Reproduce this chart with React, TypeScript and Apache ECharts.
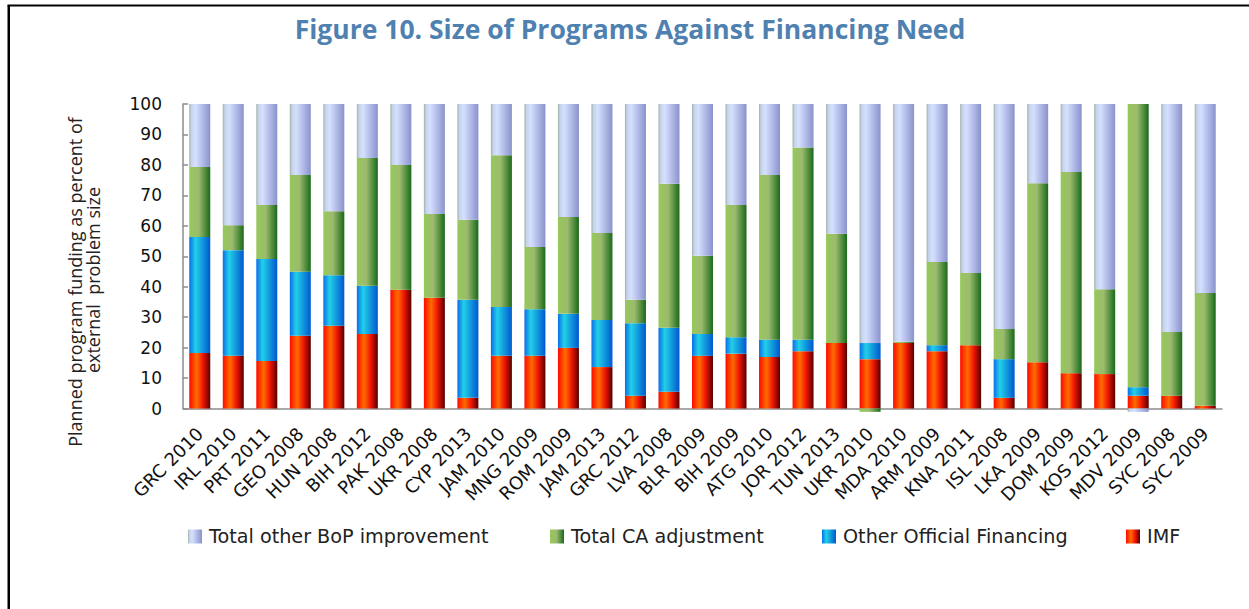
import React, { useEffect, useRef } from "react";
import * as echarts from "echarts";

const categories = [
  "GRC 2010", "IRL 2010", "PRT 2011", "GEO 2008", "HUN 2008", "BIH 2012", "PAK 2008", "UKR 2008",
  "CYP 2013", "JAM 2010", "MNG 2009", "ROM 2009", "JAM 2013", "GRC 2012", "LVA 2008", "BLR 2009",
  "BIH 2009", "ATG 2010", "JOR 2012", "TUN 2013", "UKR 2010", "MDA 2010", "ARM 2009", "KNA 2011",
  "ISL 2008", "LKA 2009", "DOM 2009", "KOS 2012", "MDV 2009", "SYC 2008", "SYC 2009",
];

const imf = [18.2, 17.3, 15.6, 23.9, 27.2, 24.5, 39.0, 36.4, 3.5, 17.3, 17.3, 19.9, 13.6, 4.2, 5.5, 17.3,
  18.0, 16.9, 18.8, 21.5, 16.2, 21.5, 18.8, 20.8, 3.5, 15.2, 11.6, 11.3, 4.2, 4.2, 0.9];
const otherOfficial = [38.1, 34.7, 33.5, 21.0, 16.6, 15.8, 0, 0, 32.2, 16.0, 15.3, 11.2, 15.5, 23.8, 21.0, 7.2,
  5.4, 5.7, 3.8, 0, 5.3, 0, 2.0, 0, 12.7, 0, 0, 0, 2.8, 0, 0];
const caAdjustment = [23.0, 8.2, 17.7, 31.8, 21.0, 42.0, 41.0, 27.5, 26.3, 49.9, 20.4, 31.8, 28.5, 7.7, 47.3, 25.7,
  43.4, 54.1, 63.1, 35.9, -1.1, 0.4, 27.3, 23.7, 9.9, 58.8, 66.1, 27.9, 93.0, 20.9, 37.0];
const otherBoP = [20.7, 39.8, 33.2, 23.3, 35.2, 17.7, 20.0, 36.1, 38.0, 16.8, 47.0, 37.1, 42.4, 64.3, 26.2, 49.8,
  33.2, 23.3, 14.3, 42.6, 78.5, 78.1, 51.9, 55.5, 73.9, 26.0, 22.3, 60.8, -1.1, 74.9, 62.1];

const seriesNames = ["IMF", "Other Official Financing", "Total CA adjustment", "Total other BoP improvement"];
const yTicks = { min: 0, max: 100, interval: 10 };

const FONT = "'Open Sans', 'Noto Sans', sans-serif";
const WIDE = "'DejaVu Sans', Verdana, sans-serif";

const grad = (stops: [number, string][]) =>
  new echarts.graphic.LinearGradient(0, 0, 1, 0, stops.map(([offset, color]) => ({ offset, color })));

const fills = [
  grad([[0, "#ff0a00"], [0.35, "#ff6c00"], [0.65, "#f01500"], [1, "#560000"]]),
  grad([[0, "#0a6ee8"], [0.3, "#22d0e8"], [1, "#0058d0"]]),
  grad([[0, "#96c85a"], [0.45, "#9cbb6e"], [1, "#1a6a1a"]]),
  grad([[0, "#9fb0a8"], [0.1, "#c6d4ea"], [0.3, "#d5e0ff"], [1, "#8a92cc"]]),
];

export default function App() {
  const ref = useRef<HTMLDivElement>(null);
  useEffect(() => {
    document.body.style.margin = "0";
    const chart = echarts.init(ref.current!, null, { renderer: "svg" });
    const dataSets = [imf, otherOfficial, caAdjustment, otherBoP];
    const legendPos = [
      { name: seriesNames[3], left: 188 },
      { name: seriesNames[2], left: 550 },
      { name: seriesNames[1], left: 822 },
      { name: seriesNames[0], left: 1126 },
    ];
    chart.setOption({
      animation: false,
      grid: { left: 183, right: 27, top: 104, bottom: 200.5, outerBoundsMode: "none" },
      legend: legendPos.map((l) => ({
        data: [l.name],
        left: l.left,
        top: 527,
        padding: 0,
        itemWidth: 14,
        itemHeight: 14,
        itemGap: 7,
        icon: "rect",
        selectedMode: false,
        textStyle: { fontFamily: WIDE, fontSize: 19.2, color: "#222", padding: [0, 0, 0, 2] },
      })),
      xAxis: {
        type: "category",
        data: categories,
        axisLine: { lineStyle: { color: "#8c8c8c", width: 1.5 } },
        axisTick: { inside: true, length: 6, interval: 0, lineStyle: { color: "#8c8c8c", width: 1.5 } },
        axisLabel: { interval: 0, rotate: 45, fontFamily: WIDE, fontSize: 18, color: "#111", margin: 22 },
      },
      yAxis: {
        type: "value",
        ...yTicks,
        axisLine: { show: true, lineStyle: { color: "#8c8c8c", width: 1.5 } },
        axisTick: { show: true, inside: true, length: 5, lineStyle: { color: "#8c8c8c", width: 1.5 } },
        axisLabel: { fontFamily: WIDE, fontSize: 17, color: "#111", margin: 21 },
        splitLine: { show: false },
      },
      series: dataSets.map((d, i) => ({
        name: seriesNames[i],
        type: "bar",
        stack: "total",
        data: d,
        barWidth: 21,
        clip: false,
        itemStyle: { color: fills[i] },
      })),
      graphic: [
        {
          type: "text",
          x: 630,
          y: 29,
          style: {
            text: "Figure 10. Size of Programs Against Financing Need",
            fontFamily: FONT,
            fontWeight: "bold",
            fontSize: 26.5,
            fill: "#4f81b0",
            textAlign: "center",
            textVerticalAlign: "middle",
          },
        },
        {
          type: "text",
          x: 74.5,
          y: 282,
          rotation: Math.PI / 2,
          style: {
            text: "Planned program funding as percent of",
            fontFamily: FONT,
            fontSize: 18,
            fill: "#222",
            textAlign: "center",
            textVerticalAlign: "middle",
          },
        },
        {
          type: "text",
          x: 92.5,
          y: 280,
          rotation: Math.PI / 2,
          style: {
            text: "external  problem size",
            fontFamily: FONT,
            fontSize: 18,
            fill: "#222",
            textAlign: "center",
            textVerticalAlign: "middle",
          },
        },
        { type: "line", shape: { x1: 8.75, y1: 5.5, x2: 8.75, y2: 609 }, style: { stroke: "#000", lineWidth: 2.5 } },
        { type: "line", shape: { x1: 7.5, y1: 5.5, x2: 1249, y2: 5.5 }, style: { stroke: "#000", lineWidth: 2 } },
      ],
    });
    return () => chart.dispose();
  }, []);
  return <div ref={ref} style={{ width: 1249, height: 609 }} />;
}
